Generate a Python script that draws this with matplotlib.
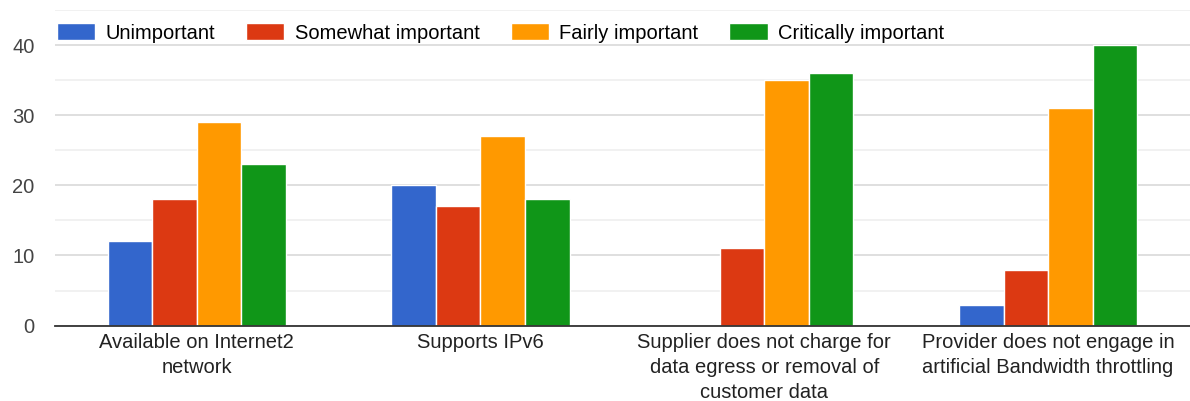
import numpy as np
import matplotlib
matplotlib.use("Agg")
import matplotlib.pyplot as plt

categories = [
    "Available on Internet2\nnetwork",
    "Supports IPv6",
    "Supplier does not charge for\ndata egress or removal of\ncustomer data",
    "Provider does not engage in\nartificial Bandwidth throttling",
]
series_names = ["Unimportant", "Somewhat important", "Fairly important", "Critically important"]
unimportant = [12, 20, 0, 3]
somewhat_important = [18, 17, 11, 8]
fairly_important = [29, 27, 35, 31]
critically_important = [23, 18, 36, 40]
y_ticks = [0, 10, 20, 30, 40]

colors = ["#3366CC", "#DC3912", "#FF9900", "#109618"]

plt.rcParams["font.family"] = ["Liberation Sans", "DejaVu Sans"]

fig = plt.figure(figsize=(11.9, 4.01), dpi=100)
ax = fig.add_axes([0.046, 0.188, 0.954, 0.787])

x = np.arange(len(categories))
bar_w = 0.157
values = [unimportant, somewhat_important, fairly_important, critically_important]
for i, (name, vals) in enumerate(zip(series_names, values)):
    offs = (i - 1.5) * bar_w
    ax.bar(x + offs, vals, width=bar_w, color=colors[i], edgecolor="white",
           linewidth=1, label=name, zorder=3)

ax.set_xlim(-0.5, len(categories) - 0.5)
ax.set_ylim(0, 45)
ax.set_yticks(y_ticks)
ax.set_yticks([5, 15, 25, 35, 45], minor=True)
ax.grid(axis="y", which="major", color="#d9d9d9", linewidth=1.2, zorder=0)
ax.grid(axis="y", which="minor", color="#efefef", linewidth=1.2, zorder=0)
ax.set_xticks(x)
ax.set_xticklabels(categories, fontsize=14.5, color="#222222", linespacing=1.4)
ax.tick_params(axis="y", labelsize=14.5, labelcolor="#444444", length=0, pad=14.4)
ax.tick_params(axis="x", length=0, pad=5)
ax.tick_params(axis="y", which="minor", length=0)

for s in ["top", "right", "left"]:
    ax.spines[s].set_visible(False)
ax.spines["bottom"].set_color("#333333")
ax.spines["bottom"].set_linewidth(1.3)
ax.spines["bottom"].set_zorder(4)

ax.legend(loc="upper left", bbox_to_anchor=(0.002, 0.958), ncol=4, frameon=False,
          fontsize=14.5, handlelength=1.9, handleheight=0.9, handletextpad=0.5,
          columnspacing=1.55, borderaxespad=0, borderpad=0)

fig.savefig("out.png", dpi=100)
